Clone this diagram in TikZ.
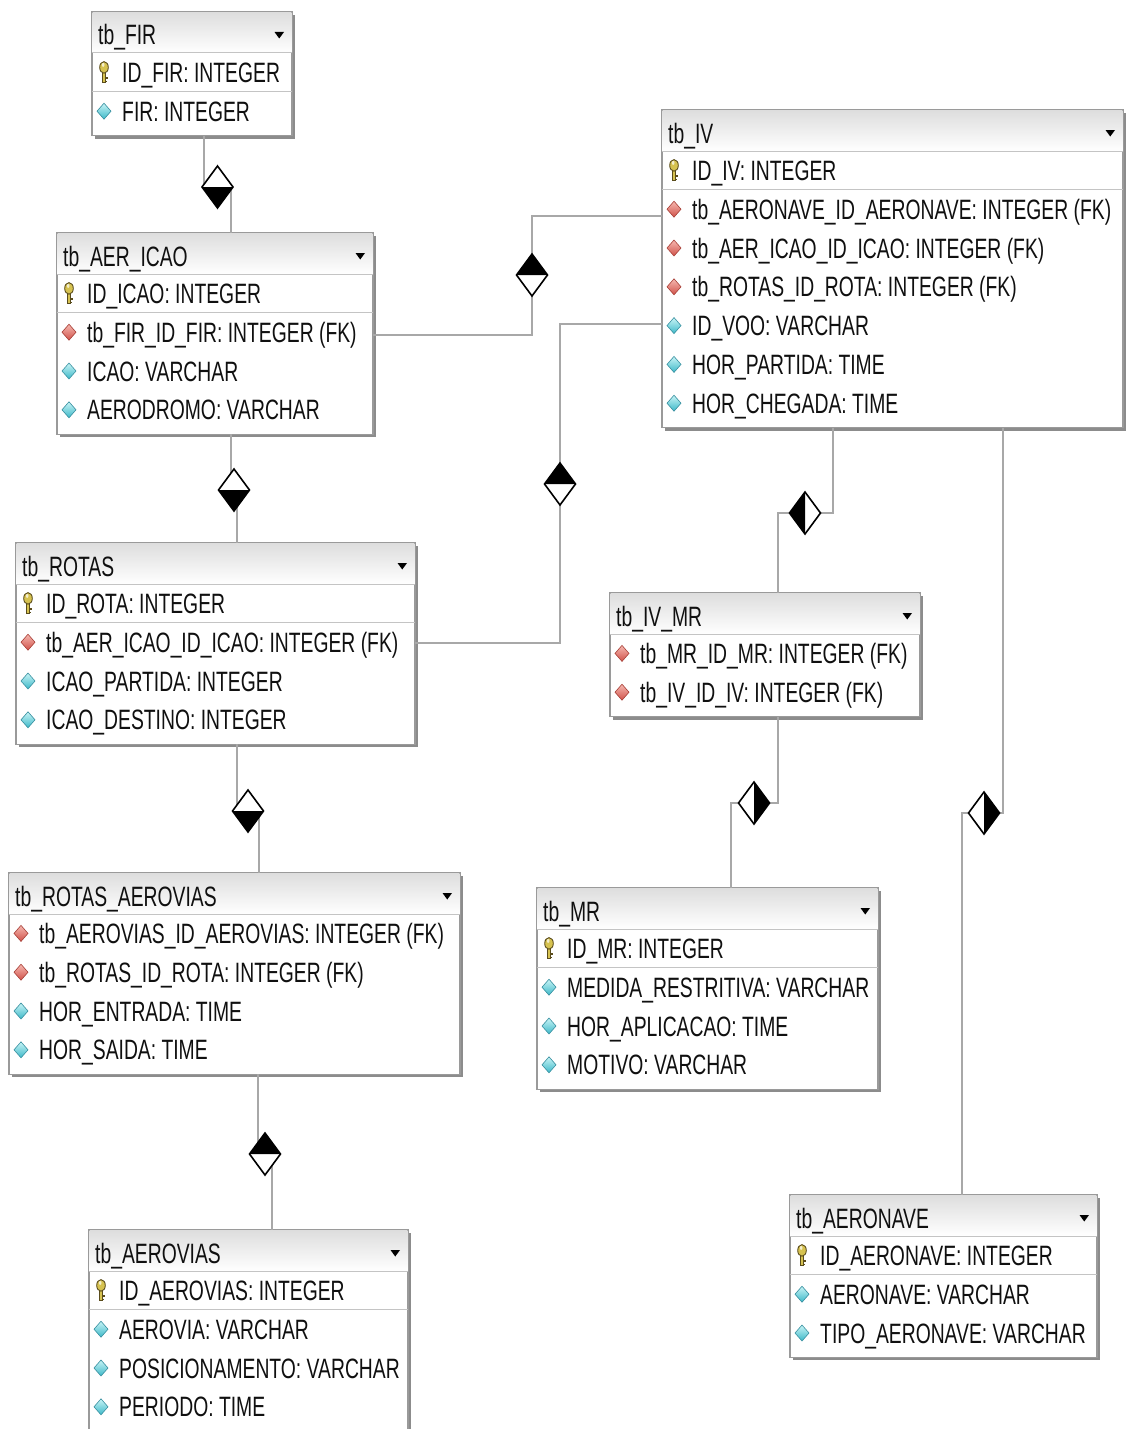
\documentclass[tikz,border=0pt]{standalone}
\usepackage{fontspec}
\setmainfont{Liberation Sans}
\newfontfamily\erfont[FakeStretch=0.69]{Liberation Sans}
\usetikzlibrary{shapes.geometric}

\definecolor{linegray}{HTML}{A8A8A8}
\definecolor{boxgray}{HTML}{9A9A9A}
\definecolor{sepgray}{HTML}{C4C4C4}
\definecolor{shadowgray}{HTML}{8C8C8C}
\definecolor{textcol}{HTML}{101010}
\definecolor{fklight}{HTML}{F6B8B0}
\definecolor{fkdark}{HTML}{D0524A}
\definecolor{fkline}{HTML}{A84038}
\definecolor{collight}{HTML}{C8F4F6}
\definecolor{coldark}{HTML}{3CB8C8}
\definecolor{colline}{HTML}{3890A0}
\definecolor{keygold}{HTML}{D6C250}
\definecolor{keydark}{HTML}{5A4C1C}

\tikzset{
  tabbox/.style={rectangle, draw=boxgray, line width=1.2pt, fill=white, inner sep=0pt, outer sep=0pt},
  conn/.style={draw=linegray, line width=1.5pt},
  dia/.style={shape=diamond, minimum width=31pt, minimum height=42pt, inner sep=0pt, outer sep=0pt},
  coltext/.style={anchor=base west, inner sep=0pt, font=\erfont\fontsize{28}{30}\selectfont, text=textcol},
  keyicon/.pic={
    \filldraw[draw=keydark, fill=keygold, line width=0.9pt] (-1.6,-1) rectangle (1.6,10.5);
    \fill[keydark] (1.6,5) rectangle (3.6,6.8);
    \fill[keydark] (1.6,8.4) rectangle (3.2,10);
    \filldraw[draw=keydark, fill=keygold, line width=0.9pt] (0,-5) ellipse (4.3 and 5.8);
    \fill[white!70!keygold] (-0.8,-7.5) ellipse (1.3 and 2);
  },
  fkicon/.pic={
    \path[draw=fkline, line width=0.6pt, top color=fklight, bottom color=fkdark]
      (0,-8) -- (7,0) -- (0,8) -- (-7,0) -- cycle;
  },
  colicon/.pic={
    \path[draw=colline, line width=0.6pt, top color=collight, bottom color=coldark]
      (0,-8) -- (7,0) -- (0,8) -- (-7,0) -- cycle;
  },
}

% table: name, left, top, right, number of rows, title, rows (type/text)
\newcommand\ertab[7]{%
  \pgfmathsetmacro\tabh{41+#5*38.8+5}
  \fill[shadowgray] (#2+3,#3+3) rectangle (#4+3,#3+\tabh+3);
  \node[tabbox, anchor=north west, minimum width={#4-#2}, minimum height={\tabh}] (#1) at (#2,#3) {};
  \shade[top color=black!13, bottom color=white] (#2+0.6,#3+0.6) rectangle (#4-0.6,#3+41);
  \draw[sepgray, line width=1pt] (#2,#3+41) -- (#4,#3+41);
  \node[coltext] (#1-title) at (#2+6,#3+33) {#6};
  \fill[black] (#4-17.5,#3+20) -- (#4-8,#3+20) -- (#4-12.75,#3+26.5) -- cycle;
  \foreach \k/\t [count=\i] in {#7} {
    \pgfmathsetmacro\cy{#3+41+(\i-0.5)*38.8}
    \if\k k
      \pic at (#2+12,\cy) {keyicon};
      \draw[sepgray, line width=1pt] (#2,\cy+19.4) -- (#4,\cy+19.4);
    \fi
    \if\k f \pic at (#2+12,\cy) {fkicon}; \fi
    \if\k c \pic at (#2+12,\cy) {colicon}; \fi
    \node[coltext] (#1-r\i) at (#2+30,\cy+10) {\t};
  }
}

% relationship marker: white diamond with one black half
\newcommand\erdia[4]{%
  \fill[white] (#1.north) -- (#1.east) -- (#1.south) -- (#1.west) -- cycle;
  \fill[black] (#1.#2) -- (#1.#3) -- (#1.#4) -- cycle;
  \draw[black, line width=1.6pt, line join=miter] (#1.north) -- (#1.east) -- (#1.south) -- (#1.west) -- cycle;
}

\begin{document}
\begin{tikzpicture}[x=1pt, y=-1pt]
\useasboundingbox[fill=white] (0,0) rectangle (1127,1429);

% tables
\ertab{fir}{92}{12}{292}{2}{tb\_FIR}{k/ID\_FIR: INTEGER,c/FIR: INTEGER}
\ertab{aer}{57}{233}{373}{4}{tb\_AER\_ICAO}{k/ID\_ICAO: INTEGER,f/tb\_FIR\_ID\_FIR: INTEGER (FK),c/ICAO: VARCHAR,c/AERODROMO: VARCHAR}
\ertab{iv}{662}{110}{1123}{7}{tb\_IV}{k/ID\_IV: INTEGER,f/tb\_AERONAVE\_ID\_AERONAVE: INTEGER (FK),f/tb\_AER\_ICAO\_ID\_ICAO: INTEGER (FK),f/tb\_ROTAS\_ID\_ROTA: INTEGER (FK),c/ID\_VOO: VARCHAR,c/HOR\_PARTIDA: TIME,c/HOR\_CHEGADA: TIME}
\ertab{rotas}{16}{543}{415}{4}{tb\_ROTAS}{k/ID\_ROTA: INTEGER,f/tb\_AER\_ICAO\_ID\_ICAO: INTEGER (FK),c/ICAO\_PARTIDA: INTEGER,c/ICAO\_DESTINO: INTEGER}
\ertab{ivmr}{610}{593}{920}{2}{tb\_IV\_MR}{f/tb\_MR\_ID\_MR: INTEGER (FK),f/tb\_IV\_ID\_IV: INTEGER (FK)}
\ertab{ra}{9}{873}{460}{4}{tb\_ROTAS\_AEROVIAS}{f/tb\_AEROVIAS\_ID\_AEROVIAS: INTEGER (FK),f/tb\_ROTAS\_ID\_ROTA: INTEGER (FK),c/HOR\_ENTRADA: TIME,c/HOR\_SAIDA: TIME}
\ertab{mr}{537}{888}{878}{4}{tb\_MR}{k/ID\_MR: INTEGER,c/MEDIDA\_RESTRITIVA: VARCHAR,c/HOR\_APLICACAO: TIME,c/MOTIVO: VARCHAR}
\ertab{aeronave}{790}{1195}{1097}{3}{tb\_AERONAVE}{k/ID\_AERONAVE: INTEGER,c/AERONAVE: VARCHAR,c/TIPO\_AERONAVE: VARCHAR}
\ertab{aerovias}{89}{1230}{408}{4}{tb\_AEROVIAS}{k/ID\_AEROVIAS: INTEGER,c/AEROVIA: VARCHAR,c/POSICIONAMENTO: VARCHAR,c/PERIODO: TIME}

% relationship markers (placed first, drawn after the connectors)
\node[dia] (d1) at (217.5,187) {};
\node[dia] (d2) at (234,490) {};
\node[dia] (d3) at (248,811) {};
\node[dia] (d4) at (265,1154) {};
\node[dia] (d5) at (532,275) {};
\node[dia] (d6) at (560,484) {};
\node[dia] (d7) at (805,513) {};
\node[dia] (d8) at (754,803) {};
\node[dia] (d9) at (984,813) {};

% connectors
\draw[conn] ([xshift=112]fir.south west) |- (d1.west);
\draw[conn] (d1.east) -| ([xshift=174]aer.north west);
\draw[conn] ([xshift=174]aer.south west) |- (d2.west);
\draw[conn] (d2.east) -| ([xshift=221]rotas.north west);
\draw[conn] ([xshift=221]rotas.south west) |- (d3.west);
\draw[conn] (d3.east) -| ([xshift=250]ra.north west);
\draw[conn] ([xshift=249]ra.south west) |- (d4.west);
\draw[conn] (d4.east) -| ([xshift=183]aerovias.north west);
\draw[conn] ([yshift=-102]aer.north east) -| (d5.south);
\draw[conn] (d5.north) |- ([yshift=-106]iv.north west);
\draw[conn] ([yshift=-100]rotas.north east) -| (d6.south);
\draw[conn] (d6.north) |- ([yshift=-214]iv.north west);
\draw[conn] ([xshift=171]iv.south west) |- (d7.east);
\draw[conn] (d7.west) -| ([xshift=168]ivmr.north west);
\draw[conn] ([xshift=168]ivmr.south west) |- (d8.east);
\draw[conn] (d8.west) -| ([xshift=194]mr.north west);
\draw[conn] ([xshift=341]iv.south west) |- (d9.east);
\draw[conn] (d9.west) -| ([xshift=172]aeronave.north west);

% markers
\erdia{d1}{west}{south}{east}
\erdia{d2}{west}{south}{east}
\erdia{d3}{west}{south}{east}
\erdia{d4}{west}{north}{east}
\erdia{d5}{west}{north}{east}
\erdia{d6}{west}{north}{east}
\erdia{d7}{north}{west}{south}
\erdia{d8}{north}{east}{south}
\erdia{d9}{north}{east}{south}
\end{tikzpicture}
\end{document}
